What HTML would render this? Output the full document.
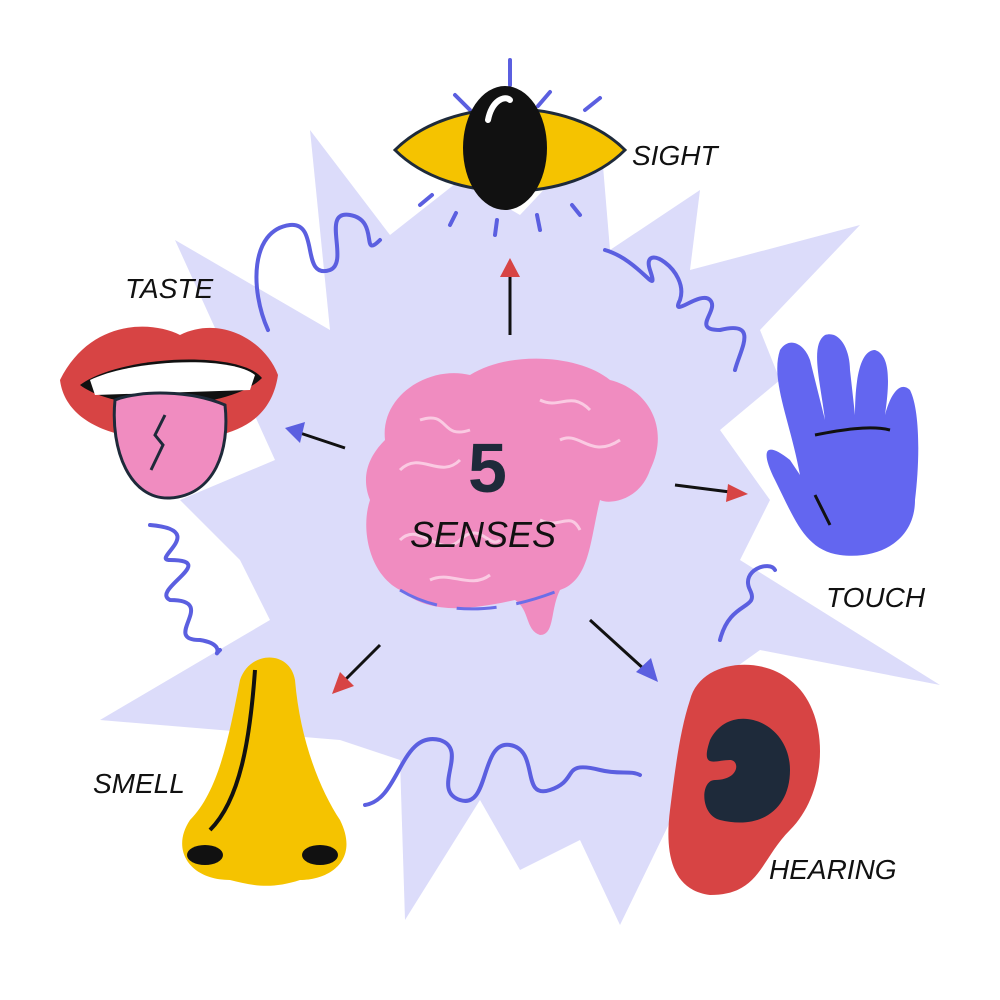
<!DOCTYPE html>
<html><head><meta charset="utf-8"><style>
html,body{margin:0;padding:0;background:#fff;width:1000px;height:1000px;overflow:hidden}
text{font-family:"Liberation Sans",sans-serif}
</style></head><body>
<svg width="1000" height="1000" viewBox="0 0 1000 1000" xmlns="http://www.w3.org/2000/svg">
<polygon fill="#dcdcfa" points="310,130 390,235 460,180 520,215 600,130 610,250 700,190 690,270 860,225 760,330 780,380 720,430 770,500 740,560 940,685 760,650 690,700 700,760 620,925 580,840 520,870 480,800 405,920 400,760 340,740 100,720 270,620 240,560 180,500 275,460 175,240 330,330"/>
<g fill="none" stroke="#5b5fe0" stroke-width="4" stroke-linecap="round">
<path d="M268,330 C250,290 250,230 290,225 C320,222 300,280 330,270 C350,262 320,210 350,215 C380,220 360,260 380,240"/>
<path d="M605,250 C640,260 660,300 650,270 C640,240 690,270 680,300 C670,320 700,290 710,300 C720,310 690,330 720,330 C760,320 740,350 735,370"/>
<path d="M150,525 C210,530 150,560 170,560 C220,560 150,590 170,600 C220,600 160,640 200,640 C230,645 210,660 220,650"/>
<path d="M720,640 C730,600 760,610 750,590 C740,570 770,560 775,570"/>
<path d="M365,805 C400,800 400,730 440,740 C470,750 430,790 460,800 C490,810 480,740 510,745 C540,750 520,800 550,790 C580,780 560,760 600,770 C620,775 630,770 640,775"/>
<path d="M455,95 l15,15 M510,60 v25 M550,92 l-12,14 M600,98 l-15,12 M420,205 l12,-10 M450,225 l6,-12 M495,235 l2,-15 M540,230 l-3,-15 M580,215 l-8,-10"/>
</g>
<!-- eye -->
<path d="M395,150 C450,95 570,95 625,150 C570,205 450,205 395,150 Z" fill="#f5c300" stroke="#1e2a3a" stroke-width="3"/>
<ellipse cx="505" cy="148" rx="42" ry="62" fill="#111"/>
<path d="M488,120 C492,100 505,95 510,100" stroke="#fff" stroke-width="6" fill="none" stroke-linecap="round"/>
<!-- brain -->
<path d="M385,440 C380,395 430,365 470,375 C510,350 580,355 610,380 C650,390 670,430 650,470 C640,500 610,505 600,500 C590,540 590,580 560,590 C550,610 555,635 540,635 C525,630 530,610 515,600 C470,610 430,615 400,590 C370,575 360,530 370,500 C360,475 370,455 385,440 Z" fill="#f08cc0"/>
<g fill="none" stroke="#fbd0e6" stroke-width="3" opacity="0.9">
<path d="M400,470 c20,-20 40,10 60,-10 M420,420 c30,-10 20,20 50,10 M540,400 c20,10 30,-10 50,10 M560,440 c20,-10 30,20 60,0 M400,540 c20,-20 40,20 60,0 c20,-20 30,10 40,0 M430,580 c20,-10 40,10 60,-5 M540,520 c20,10 30,-10 40,10"/>
</g>
<path d="M400,590 C450,620 510,610 560,590" stroke="#6b6ee8" stroke-width="3" fill="none" stroke-dasharray="40 20"/>
<text x="468" y="492" font-size="70" font-weight="bold" fill="#1e2a3a">5</text>
<text x="410" y="547" font-size="36" font-style="italic" fill="#111">SENSES</text>
<!-- mouth -->
<path d="M60,380 C90,320 150,320 180,335 C220,315 265,340 278,375 C270,430 220,440 170,440 C110,440 65,420 60,380 Z" fill="#d74444"/>
<path d="M80,385 C120,355 240,350 262,378 C230,410 120,415 80,385 Z" fill="#111"/>
<path d="M90,380 C130,360 230,355 255,375 L250,390 L95,395 Z" fill="#fff"/>
<path d="M115,400 C110,450 130,500 170,498 C215,495 230,450 225,405 C190,390 140,390 115,400 Z" fill="#f08cc0" stroke="#1e2a3a" stroke-width="3"/>
<path d="M165,415 l-10,20 l8,10 l-12,25" stroke="#1e2a3a" stroke-width="3" fill="none"/>
<!-- hand -->
<path d="M775,480 C760,450 765,440 790,460 L800,475 C790,420 770,380 780,350 C790,335 805,345 810,360 L825,420 C820,380 810,345 825,335 C840,330 850,350 850,370 L855,415 C855,380 860,350 875,350 C890,355 890,380 885,415 C890,395 900,380 910,390 C920,410 920,460 915,500 C915,540 880,560 840,555 C805,550 795,520 775,480 Z" fill="#6366f0"/>
<path d="M815,435 C840,430 870,425 890,430 M815,495 l15,30" stroke="#111" stroke-width="3" fill="none"/>
<!-- ear -->
<path d="M690,700 C700,660 760,655 790,680 C830,710 830,790 790,830 C760,860 760,895 710,895 C670,890 665,850 670,810 C675,770 680,730 690,700 Z" fill="#d74444"/>
<path d="M710,740 C730,700 790,720 790,770 C790,810 760,830 720,820 C700,815 700,780 715,780 C740,780 740,760 730,760 C715,760 700,770 710,740 Z" fill="#1e2a3a"/>
<!-- nose -->
<path d="M240,680 C250,650 290,650 295,680 C300,740 320,790 340,820 C360,860 330,880 300,880 C270,890 250,885 230,880 C190,880 170,850 190,820 C220,790 230,730 240,680 Z" fill="#f5c300"/>
<path d="M255,670 C250,740 240,800 210,830" stroke="#111" stroke-width="4" fill="none"/>
<ellipse cx="205" cy="855" rx="18" ry="10" fill="#111"/>
<ellipse cx="320" cy="855" rx="18" ry="10" fill="#111"/>
<!-- arrows -->
<g stroke="#111" stroke-width="3">
<line x1="510" y1="335" x2="510" y2="275"/>
<line x1="345" y1="448" x2="300" y2="433"/>
<line x1="675" y1="485" x2="730" y2="492"/>
<line x1="380" y1="645" x2="345" y2="680"/>
<line x1="590" y1="620" x2="645" y2="670"/>
</g>
<polygon points="510,258 500,277 520,277" fill="#d74444"/>
<polygon points="285,428 305,422 300,443" fill="#5b5fe0"/>
<polygon points="748,494 728,484 726,502" fill="#d74444"/>
<polygon points="332,694 340,672 354,686" fill="#d74444"/>
<polygon points="658,682 636,672 651,658" fill="#5b5fe0"/>
<!-- labels -->
<g font-size="28" font-style="italic" fill="#111">
<text x="632" y="165">SIGHT</text>
<text x="125" y="298">TASTE</text>
<text x="826" y="607">TOUCH</text>
<text x="93" y="793">SMELL</text>
<text x="769" y="879">HEARING</text>
</g>
</svg>
</body></html>
